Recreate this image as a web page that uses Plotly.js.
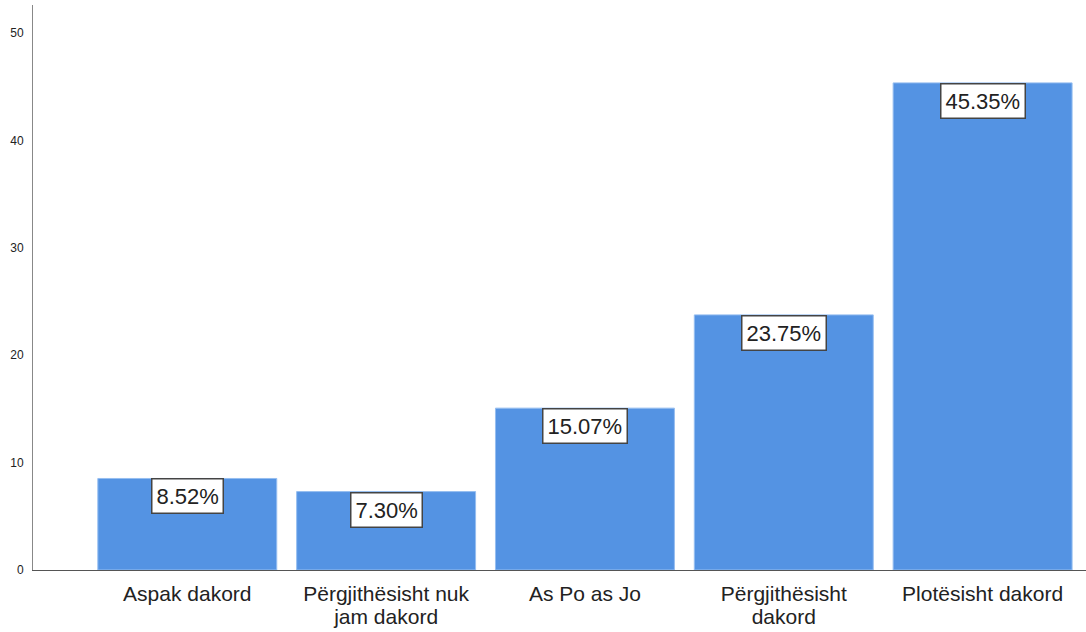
<!DOCTYPE html>
<html>
<head>
<meta charset="utf-8">
<script src="https://cdn.plot.ly/plotly-3.0.1.min.js"></script>
<style>html,body{margin:0;padding:0;background:#fff;}#chart{width:1086px;height:632px;}</style>
</head>
<body>
<div id="chart"></div>
<script>
const categories = ["Aspak dakord", "Përgjithësisht nuk<br>jam dakord", "As Po as Jo", "Përgjithësisht<br>dakord", "Plotësisht dakord"];
const percentValues = [8.52, 7.30, 15.07, 23.75, 45.35];
const percentLabels = ["8.52%", "7.30%", "15.07%", "23.75%", "45.35%"];
const yTickValues = [0, 10, 20, 30, 40, 50];

const tickText = categories.map(c => c.split('<br>').map(l => '<span style="font-size:21px">' + l + '</span>').join('<br>'));

const trace = {
  type: 'bar',
  x: categories,
  y: percentValues,
  marker: { color: 'rgb(84,147,227)', line: { color: 'rgb(150,190,240)', width: 1 } },
  hoverinfo: 'skip'
};

const annotations = categories.map((c, i) => ({
  x: c, y: percentValues[i], xref: 'x', yref: 'y',
  text: percentLabels[i], showarrow: false,
  yanchor: 'top', xanchor: 'center',
  font: { family: 'Liberation Sans, Arial, sans-serif', size: 22, color: '#222' },
  bgcolor: '#ffffff', bordercolor: '#444', borderwidth: 1.5, borderpad: 4
}));

const layout = {
  width: 1086, height: 632,
  margin: { l: 33, r: 0, t: 5, b: 62 },
  paper_bgcolor: '#fff', plot_bgcolor: '#fff',
  showlegend: false,
  bargap: 0.1,
  font: { family: 'Liberation Sans, Arial, sans-serif', color: '#222' },
  xaxis: {
    type: 'category',
    range: [-0.776, 4.52],
    tickmode: 'array', tickvals: categories, ticktext: tickText,
    showgrid: false, zeroline: false,
    showline: true, linecolor: '#555', linewidth: 1,
    ticks: '', ticklabelstandoff: 10,
    tickfont: { size: 17, color: '#222' }
  },
  yaxis: {
    range: [0, 52.6],
    tickvals: yTickValues,
    showgrid: false, zeroline: false,
    showline: true, linecolor: '#888', linewidth: 1,
    ticks: '', ticklabelstandoff: 6,
    tickfont: { size: 12, color: '#222' }
  },
  annotations: annotations
};

Plotly.newPlot('chart', [trace], layout, { displayModeBar: false, staticPlot: true });
</script>
</body>
</html>
